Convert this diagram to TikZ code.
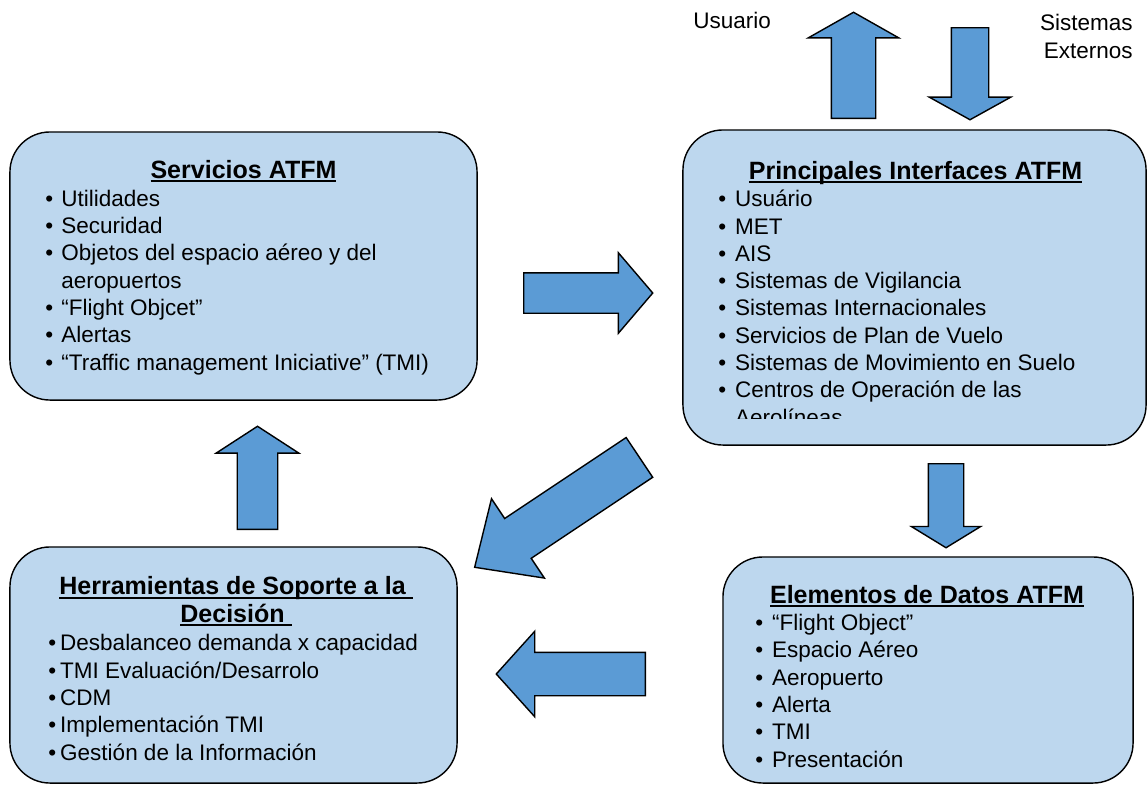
\documentclass[tikz,border=0pt]{standalone}
\usepackage{fontspec}
\setmainfont{Liberation Sans}
\usetikzlibrary{shapes.arrows}

\definecolor{panelfill}{HTML}{BDD7EE}
\definecolor{arrowfill}{HTML}{5B9BD5}
\newsavebox{\tlinebox}
\newcommand{\tline}[1]{\sbox{\tlinebox}{#1}\rlap{\rule[-2.9pt]{\wd\tlinebox}{1.3pt}}\usebox{\tlinebox}}
\newcommand{\bitem}[1][11.5pt]{\makebox[#1][l]{\textbullet}}

\begin{document}
\begin{tikzpicture}[x=0.025cm, y=-0.025cm,
    panel/.style={draw=black, line width=1pt, fill=panelfill, rounded corners=1cm, inner sep=0pt},
    blockarrow/.style={single arrow, draw=black, line width=1pt, fill=arrowfill, inner xsep=0pt, single arrow head indent=0pt, anchor=tail},
    boxtitle/.style={font=\fontsize{17.8}{19.4}\selectfont\bfseries, inner sep=0pt, align=center, anchor=base},
    boxlist/.style={font=\fontsize{16}{19.4}\selectfont, inner sep=0pt, align=left, anchor=base west},
    outtext/.style={font=\fontsize{16}{19.9}\selectfont, inner sep=0pt}]
    \useasboundingbox (0,0) rectangle (1148,785);

    % cajas
    \node[panel, minimum width=11.675cm, minimum height=6.7cm] (servicios) at (243.5,266) {};
    \node[panel, minimum width=11.575cm, minimum height=7.875cm] (interfaces) at (914.5,287.5) {};
    \node[panel, minimum width=11.175cm, minimum height=5.9cm] (herramientas) at (233.5,665) {};
    \node[panel, minimum width=10.25cm, minimum height=5.65cm] (elementos) at (928,670) {};

    % textos (base = ultima linea)
    \node[boxtitle] (servicios title) at (243.5,178) {\tline{Servicios ATFM}};
    \node[boxlist] (servicios list) at (45,370) {\bitem Utilidades\\
        \bitem Securidad\\
        \bitem Objetos del espacio aéreo y del\\
        \hspace*{11.5pt}aeropuertos\\
        \bitem “Flight Objcet”\\
        \bitem Alertas\\
        \bitem “Traffic management Iniciative” (TMI)};

    \node[boxtitle] (interfaces title) at (915.5,179) {\tline{Principales Interfaces ATFM}};
    \begin{scope}
        \clip (690,140) rectangle (1140,418);
        \node[boxlist] (interfaces list) at (718,425) {\bitem[12pt]Usuário\\
            \bitem[12pt]MET\\
            \bitem[12pt]AIS\\
            \bitem[12pt]Sistemas de Vigilancia\\
            \bitem[12pt]Sistemas Internacionales\\
            \bitem[12pt]Servicios de Plan de Vuelo\\
            \bitem[12pt]Sistemas de Movimiento en Suelo\\
            \bitem[12pt]Centros de Operación de las\\
            \hspace*{12pt}Aerolíneas};
    \end{scope}

    \node[boxtitle] (herramientas title) at (236,622) {\tline{Herramientas de Soporte a la\ }\\\tline{Decisión\ }};
    \node[boxlist] (herramientas list) at (48,760) {\bitem[8.5pt]Desbalanceo demanda x capacidad\\
        \bitem[8.5pt]TMI Evaluación/Desarrolo\\
        \bitem[8.5pt]CDM\\
        \bitem[8.5pt]Implementación TMI\\
        \bitem[8.5pt]Gestión de la Información};

    \node[boxtitle] (elementos title) at (927,603) {\tline{Elementos de Datos ATFM}};
    \node[boxlist] (elementos list) at (755,767) {\bitem[12pt]“Flight Object”\\
        \bitem[12pt]Espacio Aéreo\\
        \bitem[12pt]Aeropuerto\\
        \bitem[12pt]Alerta\\
        \bitem[12pt]TMI\\
        \bitem[12pt]Presentación};

    \node[outtext, anchor=base west] (usuario) at (693,28) {Usuario};
    \node[outtext, anchor=base east, align=right] (externos) at (1133,58) {Sistemas\\Externos};

    % flechas
    \node[blockarrow, minimum height=2.65cm, inner ysep=0.5375cm, single arrow head extend=0.575cm, single arrow tip angle=121, rotate=90] (to usuario) at (853.5,119) {};
    \node[blockarrow, minimum height=2.3cm, inner ysep=0.45cm, single arrow head extend=0.55cm, single arrow tip angle=122, rotate=-90] (from externos) at (970,27) {};
    \node[blockarrow, minimum height=3.225cm, inner ysep=0.4875cm, single arrow head extend=0.5cm, single arrow tip angle=99] (to interfaces) at (523,293) {};
    \node[blockarrow, minimum height=4.95cm, inner ysep=0.58cm, single arrow head extend=0.594cm, single arrow tip angle=85, rotate=213.7] (to herramientas diag) at (640,457) {};
    \node[blockarrow, minimum height=2.1cm, inner ysep=0.425cm, single arrow head extend=0.425cm, single arrow tip angle=117, rotate=-90] (to elementos) at (946,463) {};
    \node[blockarrow, minimum height=2.575cm, inner ysep=0.4875cm, single arrow head extend=0.525cm, single arrow tip angle=114, rotate=90] (to servicios) at (257.5,530) {};
    \node[blockarrow, minimum height=3.725cm, inner ysep=0.525cm, single arrow head extend=0.525cm, single arrow tip angle=96, rotate=180] (to herramientas) at (646,674) {};
\end{tikzpicture}
\end{document}
